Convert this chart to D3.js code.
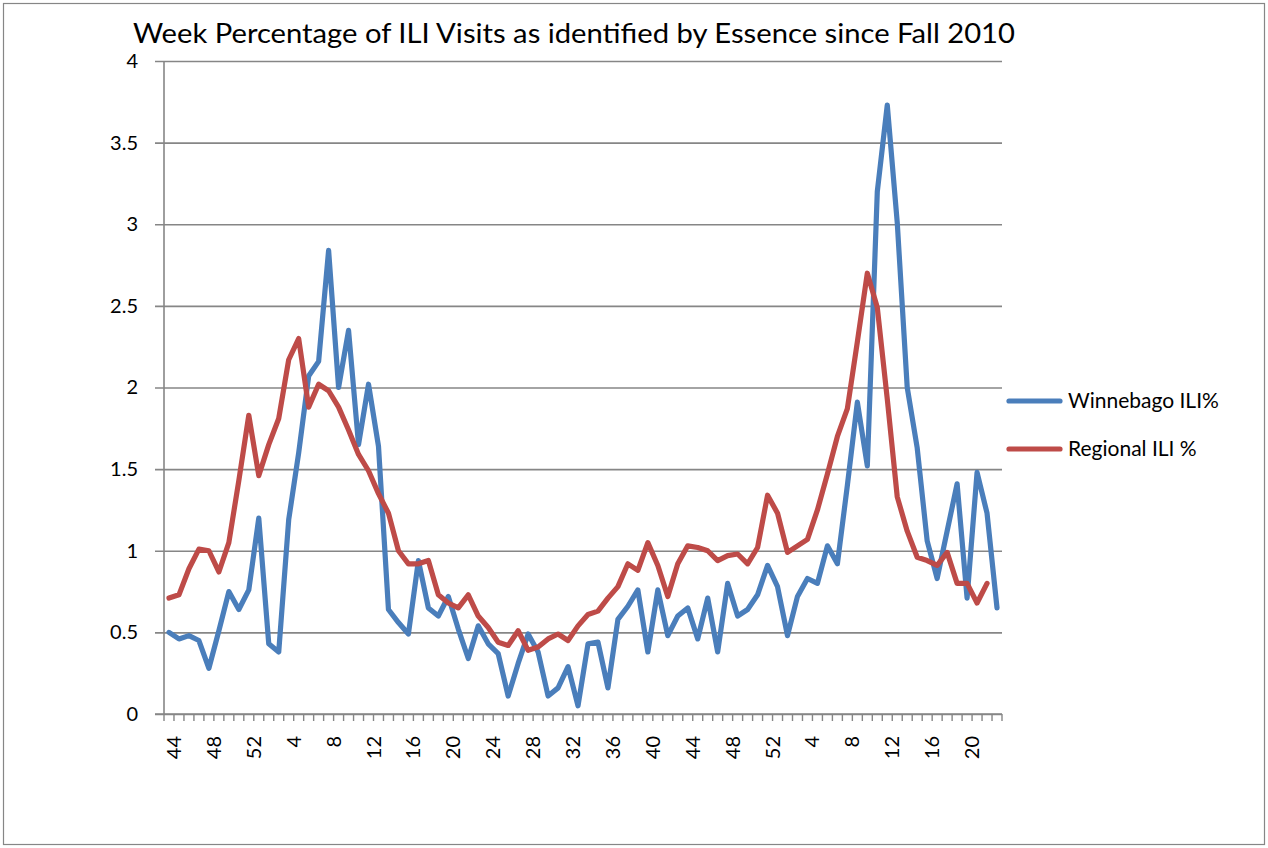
<!DOCTYPE html>
<html>
<head>
<meta charset="utf-8">
<script src="https://cdn.jsdelivr.net/npm/d3@7"></script>
<style>
  html, body { margin: 0; padding: 0; background: #ffffff; }
  svg { display: block; }
  text { font-family: Lato, "Open Sans", sans-serif; fill: #000; }
</style>
</head>
<body>
<svg id="chart" width="1268" height="848"></svg>
<script>
// ---- data ----
const title = "Week Percentage of ILI Visits as identified by Essence since Fall 2010";
const weeks = [44,45,46,47,48,49,50,51,52,
  1,2,3,4,5,6,7,8,9,10,11,12,13,14,15,16,17,18,19,20,21,22,23,24,25,26,
  27,28,29,30,31,32,33,34,35,36,37,38,39,40,41,42,43,44,45,46,47,48,49,50,51,52,
  1,2,3,4,5,6,7,8,9,10,11,12,13,14,15,16,17,18,19,20,21,22,23];
const seriesNames = ["Winnebago ILI%", "Regional ILI %"];
const winnebago = [0.50,0.46,0.48,0.45,0.28,0.51,0.75,0.64,0.76,1.20,0.43,0.38,1.19,
  1.60,2.07,2.16,2.84,2.00,2.35,1.65,2.02,1.64,0.64,0.56,0.49,0.94,0.65,
  0.60,0.72,0.52,0.34,0.54,0.43,0.37,0.11,0.31,0.49,0.38,0.11,0.16,0.29,
  0.05,0.43,0.44,0.16,0.58,0.66,0.76,0.38,0.76,0.48,0.60,0.65,0.46,
  0.71,0.38,0.80,0.60,0.64,0.73,0.91,0.78,0.48,0.72,0.83,0.80,1.03,0.92,1.40,
  1.91,1.52,3.20,3.73,3.01,2.00,1.63,1.06,0.83,1.12,1.41,0.71,1.48,1.23,0.65];
const regional = [0.71,0.73,0.89,1.01,1.00,0.87,1.05,1.43,1.83,1.46,1.65,1.81,2.17,
  2.30,1.88,2.02,1.98,1.88,1.74,1.59,1.49,1.35,1.23,1.00,0.92,0.92,0.94,
  0.73,0.68,0.65,0.73,0.60,0.53,0.44,0.42,0.51,0.39,0.41,0.46,0.49,0.45,
  0.54,0.61,0.63,0.71,0.78,0.92,0.88,1.05,0.91,0.72,0.92,1.03,1.02,
  1.00,0.94,0.97,0.98,0.92,1.02,1.34,1.23,0.99,1.03,1.07,1.25,1.47,1.70,1.87,
  2.28,2.70,2.49,1.93,1.33,1.12,0.96,0.94,0.91,0.99,0.80,0.80,0.68,0.80];
const yTicks = [0,0.5,1,1.5,2,2.5,3,3.5,4];
const yTickLabels = ["0","0.5","1","1.5","2","2.5","3","3.5","4"];
const colors = ["#4A7EBB", "#BE4B48"];

// ---- layout ----
const svg = d3.select("#chart");
const L = 164, R = 1002, T = 61, B = 714;
const gridColor = "#868686";

svg.append("rect").attr("x", 0).attr("y", 0).attr("width", 1268).attr("height", 848).attr("fill", "#fff");
svg.append("rect").attr("x", 3.5).attr("y", 3.5).attr("width", 1261).attr("height", 841)
  .attr("fill", "none").attr("stroke", gridColor).attr("stroke-width", 1.2);

const x = d3.scaleBand().domain(d3.range(weeks.length)).range([L, R]).padding(0);
const y = d3.scaleLinear().domain([0, 4]).range([B, T]);
const cx = i => x(i) + x.bandwidth() / 2;

// title
svg.append("text").attr("x", 574).attr("y", 43).attr("text-anchor", "middle")
  .attr("font-size", 26).attr("textLength", 882).attr("lengthAdjust", "spacingAndGlyphs")
  .text(title);

// y axis with gridlines
const yAxis = d3.axisLeft(y).tickValues(yTicks)
  .tickFormat((d, i) => yTickLabels[i]).tickSize(-(R - L)).tickPadding(26);
const gy = svg.append("g").attr("transform", `translate(${L},0)`).call(yAxis);
gy.select(".domain").remove();
gy.selectAll(".tick line").attr("x1", -9).attr("stroke", gridColor).attr("stroke-width", 1.6);
gy.selectAll(".tick text").attr("font-size", 20).attr("font-family", "Lato, 'Open Sans', sans-serif").attr("fill", "#000");
svg.append("line").attr("x1", L).attr("x2", L).attr("y1", T).attr("y2", B)
  .attr("stroke", gridColor).attr("stroke-width", 1.6);

// x axis: boundary ticks and labels every 4th category
const bounds = d3.range(weeks.length + 1);
svg.append("g").selectAll("line").data(bounds).join("line")
  .attr("x1", k => L + k * x.step()).attr("x2", k => L + k * x.step())
  .attr("y1", B).attr("y2", B + 7).attr("stroke", gridColor).attr("stroke-width", 1.4);
svg.append("line").attr("x1", L - 9).attr("x2", R).attr("y1", B).attr("y2", B)
  .attr("stroke", gridColor).attr("stroke-width", 1.6);

const labelIdx = d3.range(weeks.length).filter(i => i % 4 === 0);
svg.append("g").selectAll("text").data(labelIdx).join("text")
  .attr("transform", i => `translate(${cx(i) + 12},736) rotate(-90)`)
  .attr("text-anchor", "end").attr("font-size", 20)
  .text(i => weeks[i]);

// lines
const line = d3.line().x((d, i) => cx(i)).y(d => y(d));
[winnebago, regional].forEach((s, k) => {
  svg.append("path").datum(s).attr("d", line).attr("fill", "none")
    .attr("stroke", colors[k]).attr("stroke-width", 5.2)
    .attr("stroke-linejoin", "round").attr("stroke-linecap", "round");
});

// legend
const legY = [401, 449];
seriesNames.forEach((n, k) => {
  svg.append("line").attr("x1", 1009).attr("x2", 1060).attr("y1", legY[k]).attr("y2", legY[k])
    .attr("stroke", colors[k]).attr("stroke-width", 5.2).attr("stroke-linecap", "round");
  svg.append("text").attr("x", 1068).attr("y", legY[k]).attr("dy", "0.35em")
    .attr("font-size", 21).text(n);
});
</script>
</body>
</html>
